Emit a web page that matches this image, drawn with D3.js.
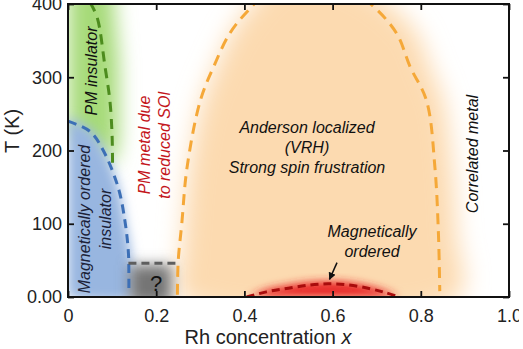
<!DOCTYPE html>
<html><head><meta charset="utf-8">
<script src="https://cdn.jsdelivr.net/npm/d3@7"></script>
<style>
html,body{margin:0;padding:0;background:#fff;}
svg{display:block;overflow:hidden;}
text{font-family:"Liberation Sans",Arial,sans-serif;}
</style></head>
<body><svg id="c" width="519" height="349"></svg>
<script>
// ---- data (x = Rh concentration, T in K) ----
const xTicks = [0, 0.2, 0.4, 0.6, 0.8, 1.0];
const xTickLabels = ["0", "0.2", "0.4", "0.6", "0.8", "1.0"];
const yTicks = [0, 100, 200, 300, 400];
const yTickLabels = ["0.00", "100", "200", "300", "400"];

const greenBoundary = [[0.05,402],[0.066,382],[0.084,314],[0.095,268],[0.100,220],[0.101,179]];
const blueBoundary = [[0,240],[0.05,226],[0.08,200],[0.114,149],[0.13,100],[0.137,60],[0.138,30],[0.138,4]];
const grayBoundary = [[0.137,46],[0.248,46]];
const orangeBoundary = [[0.248,3],[0.250,50],[0.258,100],[0.27,177],[0.30,268],[0.33,314],[0.367,360],[0.41,392],[0.47,425],[0.56,438],[0.64,418],[0.69,398],[0.745,360],[0.776,314],[0.813,268],[0.832,177],[0.840,86],[0.843,8]];
const redBoundary = [[0.405,0],[0.45,7],[0.5,12],[0.55,16.5],[0.59,18],[0.63,17],[0.68,12],[0.72,6],[0.75,0]];

const greenRegion = [[0,430],[0.1,430],[0.115,320],[0.115,220],[0.105,180],[0.04,212],[0,228]];
const blueRegion = [[0,245],[0.05,229],[0.08,203],[0.114,152],[0.13,102],[0.142,60],[0.145,0],[0,0]];
const grayRegion = [[0.14,44],[0.235,44],[0.235,-10],[0.14,-10]];
const orangeRegion = [[0.255,0],[0.257,50],[0.263,100],[0.275,177],[0.305,268],[0.335,314],[0.37,360],[0.41,395],[0.47,430],[0.56,445],[0.66,425],[0.73,398],[0.79,360],[0.82,314],[0.85,268],[0.87,177],[0.88,86],[0.885,0]];
const redRegion = [[0.41,0],[0.45,10],[0.5,16],[0.55,20],[0.59,21],[0.63,20],[0.68,15],[0.72,8],[0.75,0]];

const arrowFrom = [0.61, 47], arrowTo = [0.593, 24];

// ---- setup ----
const svg = d3.select("#c");
const x = d3.scaleLinear().domain([0,1]).range([68,509]);
const y = d3.scaleLinear().domain([0,400]).range([297,4]);

const defs = svg.append("defs");
defs.append("clipPath").attr("id","plot").append("rect")
  .attr("x",x(0)).attr("y",y(400)).attr("width",x(1)-x(0)).attr("height",y(0)-y(400));
function blur(id, sd){
  defs.append("filter").attr("id",id).attr("x","-50%").attr("y","-50%").attr("width","200%").attr("height","200%")
    .append("feGaussianBlur").attr("stdDeviation",sd);
}
blur("b12",12); blur("b10",10); blur("b7",7); blur("b6",6); blur("b4",4);

const line = d3.line().x(d=>x(d[0])).y(d=>y(d[1])).curve(d3.curveCatmullRom);
const closed = d3.line().x(d=>x(d[0])).y(d=>y(d[1])).curve(d3.curveCatmullRomClosed);
const poly = d3.line().x(d=>x(d[0])).y(d=>y(d[1]));

const g = svg.append("g").attr("clip-path","url(#plot)");
g.append("rect").attr("x",x(0)).attr("y",y(400)).attr("width",x(1)-x(0)).attr("height",y(0)-y(400)).attr("fill","#fff");
const fills = g.append("g");
fills.append("path").attr("d",closed(orangeRegion)).attr("fill","#fcdab0").attr("filter","url(#b12)");
fills.append("path").attr("d",poly(greenRegion)+"Z").attr("fill","#a6da78").attr("filter","url(#b10)");
fills.append("path").attr("d",line(blueRegion)+"Z").attr("fill","#98b6e0").attr("filter","url(#b6)");
fills.append("path").attr("d",poly(grayRegion)+"Z").attr("fill","#747474").attr("filter","url(#b7)");
fills.append("path").attr("d",line(redRegion)+"Z").attr("fill","#e82626").attr("filter","url(#b4)");

// dashed boundaries
function dashed(data, color, dash, w){
  g.append("path").attr("d",line(data)).attr("fill","none").attr("stroke",color)
   .attr("stroke-width",w||3).attr("stroke-dasharray",dash);
}
dashed(orangeBoundary,"#f5a838","11,7");
dashed(greenBoundary,"#4d8c1e","10,7");
dashed(blueBoundary,"#3c6fb6","9,6");
dashed(grayBoundary,"#5e5e5e","8,5");
dashed(redBoundary,"#a80c0c","8,5");

// arrow
defs.append("marker").attr("id","ah").attr("viewBox","0 0 10 10").attr("refX",9).attr("refY",5)
  .attr("markerWidth",5).attr("markerHeight",5).attr("orient","auto")
  .append("path").attr("d","M0,0L10,5L0,10Z").attr("fill","#111");
g.append("line").attr("x1",x(arrowFrom[0])).attr("y1",y(arrowFrom[1])).attr("x2",x(arrowTo[0])).attr("y2",y(arrowTo[1]))
  .attr("stroke","#111").attr("stroke-width",1.5).attr("marker-end","url(#ah)");

// labels
const T = svg.append("g").attr("font-style","italic").attr("font-size",16);
function rot(cx, cy, txt, color){
  T.append("text").attr("transform",`translate(${cx},${cy}) rotate(-90)`).attr("text-anchor","middle")
   .attr("dy","0.35em").attr("fill",color||"#111").text(txt);
}
rot(91,71,"PM insulator");
rot(84,219,"Magnetically ordered","#1c2238");
rot(105,219,"insulator","#1c2238");
rot(144,145,"PM metal due","#c4161c");
rot(164,145,"to reduced SOI","#c4161c");
rot(472,154,"Correlated metal");
[["Anderson localized",133],["(VRH)",153],["Strong spin frustration",173]].forEach(d=>{
  T.append("text").attr("x",307).attr("y",d[1]).attr("text-anchor","middle").attr("fill","#111").text(d[0]);
});
[["Magnetically",237],["ordered",257]].forEach(d=>{
  T.append("text").attr("x",372).attr("y",d[1]).attr("text-anchor","middle").attr("fill","#111").text(d[0]);
});
svg.append("text").attr("x",156).attr("y",291).attr("text-anchor","middle").attr("font-size",22).attr("fill","#111").text("?");

// axes
const fmtX = (d,i)=>xTickLabels[i], fmtY = (d,i)=>yTickLabels[i];
const axB = svg.append("g").attr("transform",`translate(0,${y(0)})`)
  .call(d3.axisBottom(x).tickValues(xTicks).tickFormat(fmtX).tickSizeInner(-6).tickSizeOuter(0).tickPadding(12));
const axL = svg.append("g").attr("transform",`translate(${x(0)},0)`)
  .call(d3.axisLeft(y).tickValues(yTicks).tickFormat(fmtY).tickSizeInner(-6).tickSizeOuter(0).tickPadding(6));
const axT = svg.append("g").attr("transform",`translate(0,${y(400)})`)
  .call(d3.axisTop(x).tickValues(xTicks).tickFormat("").tickSizeInner(-6).tickSizeOuter(0));
const axR = svg.append("g").attr("transform",`translate(${x(1)},0)`)
  .call(d3.axisRight(y).tickValues(yTicks).tickFormat("").tickSizeInner(-6).tickSizeOuter(0));
[axB,axL,axT,axR].forEach(a=>{
  a.select(".domain").remove();
  a.selectAll("line").attr("stroke","#111").attr("stroke-width",1.8);
  a.selectAll("text").attr("font-size",18).attr("fill","#222").attr("font-family","'Liberation Sans',Arial,sans-serif");
});
svg.append("rect").attr("x",x(0)).attr("y",y(400)).attr("width",x(1)-x(0)).attr("height",y(0)-y(400))
  .attr("fill","none").attr("stroke","#111").attr("stroke-width",2);

// axis titles
svg.append("text").attr("transform","translate(12,131) rotate(-90)").attr("text-anchor","middle")
  .attr("dy","0.35em").attr("font-size",20).attr("fill","#222").text("T (K)");
const xt = svg.append("text").attr("x",268).attr("y",344).attr("text-anchor","middle").attr("font-size",20).attr("fill","#222");
xt.append("tspan").text("Rh concentration ");
xt.append("tspan").attr("font-style","italic").text("x");
</script></body></html>
